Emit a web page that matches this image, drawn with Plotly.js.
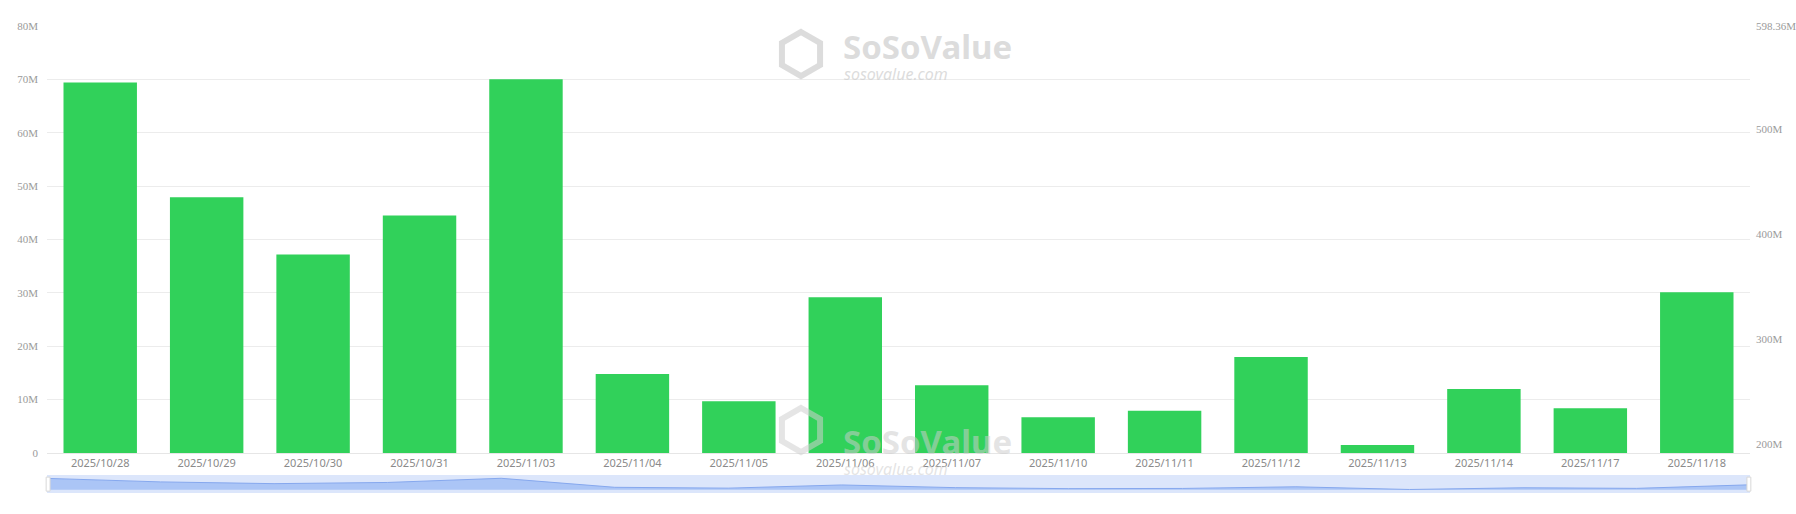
<!DOCTYPE html>
<html>
<head>
<meta charset="utf-8">
<script src="https://cdn.plot.ly/plotly-3.0.1.min.js"></script>
<style>
html,body{margin:0;padding:0;background:#fff;}
#chart{width:1796px;height:514px;}
</style>
</head>
<body>
<div id="chart"></div>
<script>
const dates = ["2025/10/28","2025/10/29","2025/10/30","2025/10/31","2025/11/03","2025/11/04","2025/11/05","2025/11/06","2025/11/07","2025/11/10","2025/11/11","2025/11/12","2025/11/13","2025/11/14","2025/11/17","2025/11/18"];
const inflowM = [69.4, 47.9, 37.2, 44.5, 70.0, 14.8, 9.7, 29.2, 12.7, 6.7, 7.9, 18.0, 1.5, 12.0, 8.4, 30.1];
const leftTickVals = [0, 10, 20, 30, 40, 50, 60, 70, 80];
const leftTickText = ["0","10M","20M","30M","40M","50M","60M","70M","80M"];
const rightTickVals = [200, 300, 400, 500, 598.36];
const rightTickText = ["200M","300M","400M","500M","598.36M"];

const values = inflowM.map(v => v * 1e6);

const traces = [
  {
    type: "bar",
    x: dates,
    y: values,
    marker: {color: "#31d15a"},
    xaxis: "x", yaxis: "y",
    hoverinfo: "x+y",
    showlegend: false
  },
  {
    type: "scatter",
    mode: "lines",
    x: dates,
    y: values,
    fill: "tozeroy",
    fillcolor: "rgba(165,193,245,0.9)",
    line: {color: "#86a8ee", width: 1},
    xaxis: "x2", yaxis: "y2",
    hoverinfo: "skip",
    showlegend: false
  },
  {
    type: "scatter",
    mode: "lines",
    x: dates,
    y: dates.map(() => null),
    xaxis: "x", yaxis: "y3",
    hoverinfo: "skip",
    showlegend: false
  }
];

const serifFont = {family: "Liberation Serif, Times New Roman, serif", size: 11, color: "#9a9a9a"};

const layout = {
  width: 1796, height: 514,
  margin: {l: 47, r: 46, t: 26, b: 21},
  paper_bgcolor: "#fff", plot_bgcolor: "rgba(0,0,0,0)",
  bargap: 0.31,
  xaxis: {
    type: "category",
    domain: [0, 1],
    anchor: "y",
    showgrid: false,
    showline: true, linecolor: "#e6e6e6", linewidth: 1,
    ticks: "",
    tickfont: {family: "Noto Sans, Open Sans, sans-serif", size: 11, color: "#8a8a8a"},
    fixedrange: true
  },
  yaxis: {
    domain: [0.0857, 1],
    range: [0, 80e6],
    tickvals: leftTickVals.map(v => v * 1e6),
    ticktext: leftTickText,
    showgrid: true, gridcolor: "#ececec", gridwidth: 1,
    zeroline: false,
    showline: false,
    ticks: "",
    ticklabelstandoff: 8,
    tickfont: serifFont,
    fixedrange: true
  },
  yaxis3: {
    overlaying: "y",
    side: "right",
    anchor: "x",
    range: [191.46, 598.36],
    tickvals: rightTickVals,
    ticktext: rightTickText,
    showgrid: false, zeroline: false, showline: false,
    ticks: "",
    ticklabelstandoff: 5,
    tickfont: serifFont,
    fixedrange: true
  },
  xaxis2: {
    type: "category",
    domain: [0, 1],
    anchor: "y2",
    range: [0, dates.length - 1],
    showgrid: false, showticklabels: false, showline: false, zeroline: false, ticks: "",
    fixedrange: true
  },
  yaxis2: {
    domain: [0, 0.0385],
    range: [-20e6, 90e6],
    showgrid: false, showticklabels: false, showline: false, zeroline: false, ticks: "",
    fixedrange: true
  },
  shapes: [
    {type: "rect", xref: "x2 domain", yref: "y2 domain", x0: 0, x1: 1, y0: 0, y1: 1,
     fillcolor: "rgba(218,229,251,0.95)", line: {width: 0}, layer: "below"},
    {type: "rect", xref: "paper", yref: "paper", x0: -0.0005, x1: 0.0018, y0: 0.004, y1: 0.034,
     fillcolor: "#ffffff", line: {color: "#d8d8d8", width: 1}},
    {type: "rect", xref: "paper", yref: "paper", x0: 0.9982, x1: 1.0005, y0: 0.004, y1: 0.034,
     fillcolor: "#ffffff", line: {color: "#d8d8d8", width: 1}}
  ],
  annotations: [
    {xref: "paper", yref: "paper", x: 0.466, y: 1.008, xanchor: "left", yanchor: "top",
     text: "<b>SoSoValue</b>", showarrow: false,
     font: {family: "Noto Sans, Open Sans, sans-serif", size: 33, color: "rgba(205,205,205,0.7)"}},
    {xref: "paper", yref: "paper", x: 0.467, y: 0.925, xanchor: "left", yanchor: "top",
     text: "<i>sosovalue.com</i>", showarrow: false,
     font: {family: "Noto Sans, Open Sans, sans-serif", size: 16, color: "rgba(205,205,205,0.7)"}},
    {xref: "paper", yref: "paper", x: 0.466, y: 0.163, xanchor: "left", yanchor: "top",
     text: "<b>SoSoValue</b>", showarrow: false,
     font: {family: "Noto Sans, Open Sans, sans-serif", size: 33, color: "rgba(205,205,205,0.55)"}},
    {xref: "paper", yref: "paper", x: 0.467, y: 0.080, xanchor: "left", yanchor: "top",
     text: "<i>sosovalue.com</i>", showarrow: false,
     font: {family: "Noto Sans, Open Sans, sans-serif", size: 16, color: "rgba(205,205,205,0.55)"}}
  ]
};

// hexagon logo marks for the watermark (decorative)
function hexPath(cx, cy, r) {
  const W = 1703, H = 467;
  let pts = [];
  for (let i = 0; i < 6; i++) {
    const a = Math.PI / 180 * (60 * i - 90);
    pts.push([(cx + r * Math.cos(a)) / W, 1 - (cy + r * Math.sin(a)) / H]);
  }
  return "M" + pts.map(p => p[0].toFixed(5) + "," + p[1].toFixed(5)).join(" L") + " Z";
}
[[754, 28], [754, 404]].forEach((c, i) => {
  layout.shapes.push({type: "path", xref: "paper", yref: "paper", path: hexPath(c[0], c[1], 22),
    fillcolor: "rgba(0,0,0,0)", line: {color: i === 0 ? "rgba(208,208,208,0.75)" : "rgba(208,208,208,0.55)", width: 6}});
});

Plotly.newPlot("chart", traces, layout, {displayModeBar: false, staticPlot: true});
</script>
</body>
</html>
